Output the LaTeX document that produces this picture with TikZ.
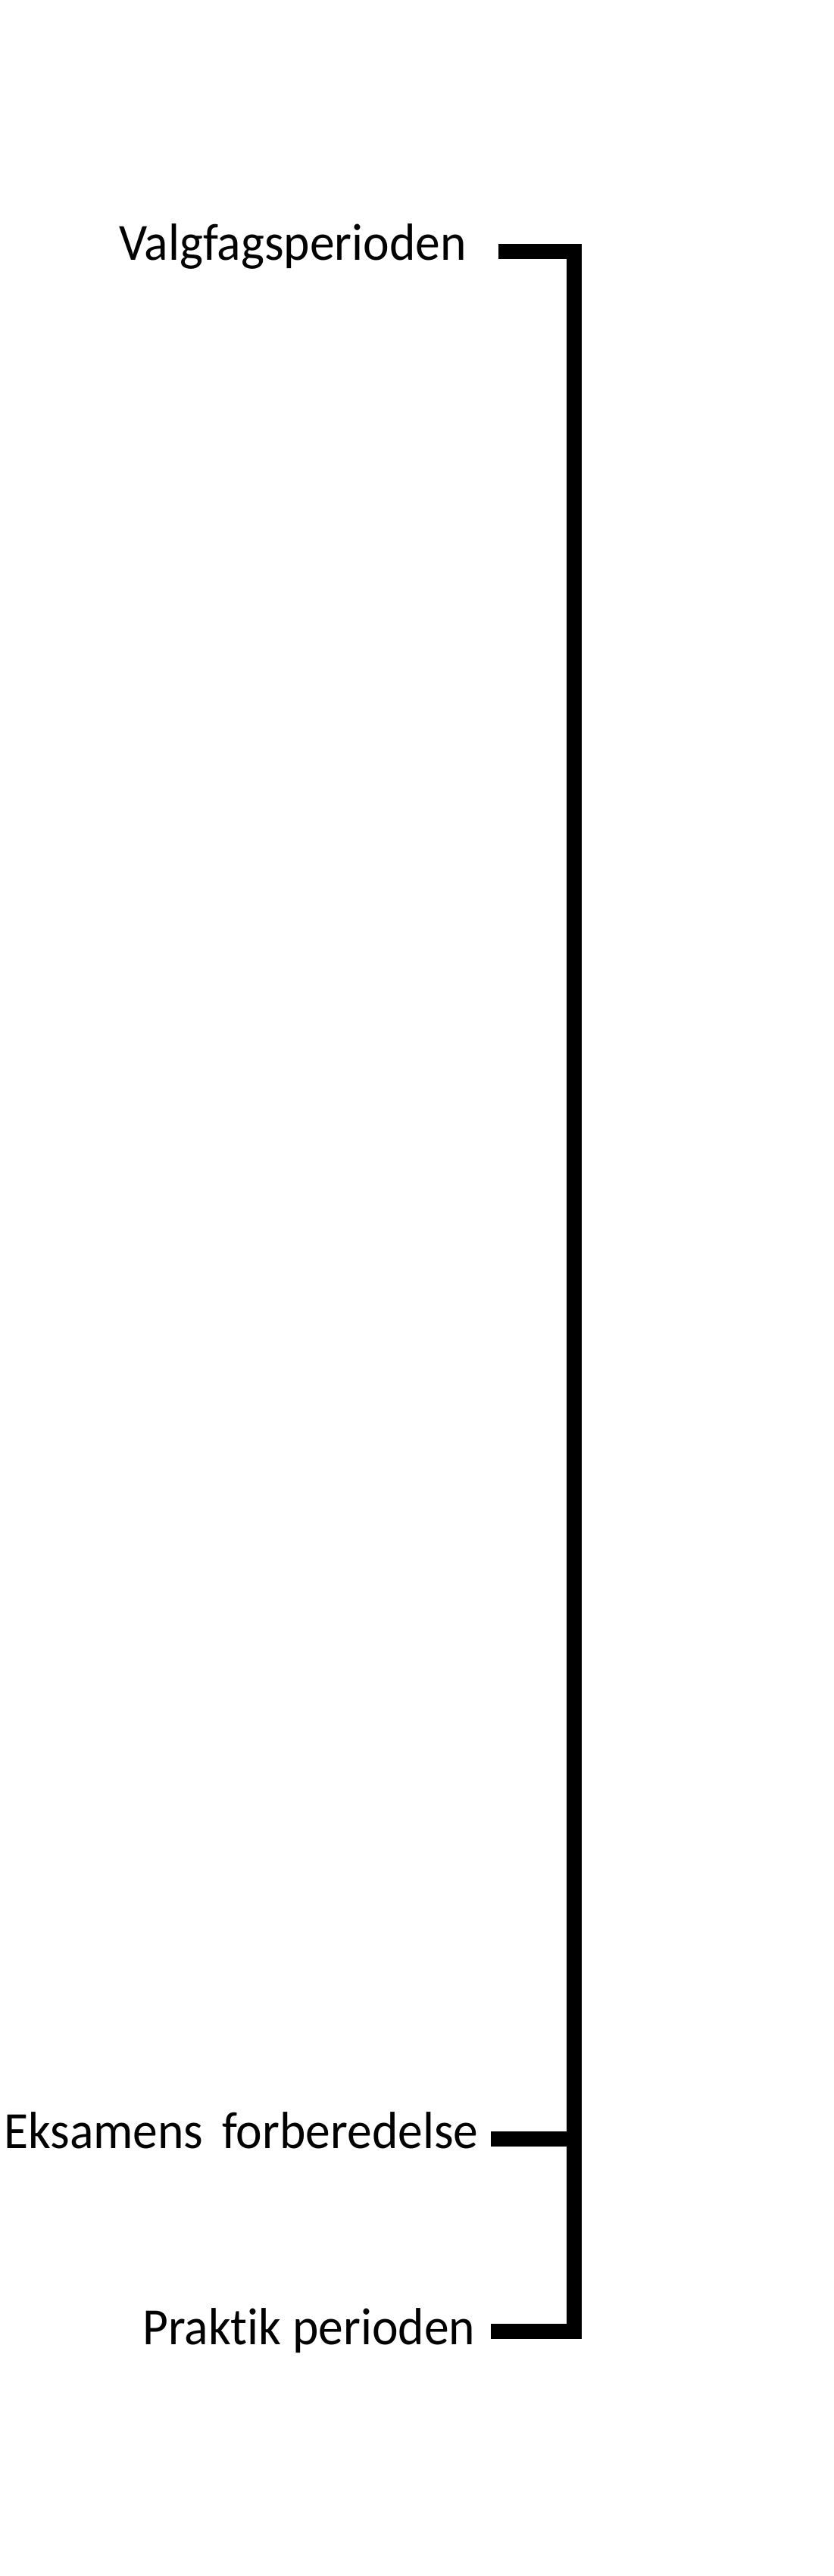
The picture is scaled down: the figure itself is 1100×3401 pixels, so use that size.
\documentclass[tikz,border=0pt]{standalone}
\usepackage{fontspec}
\setmainfont[FakeStretch=0.95, Ligatures=NoCommon]{Carlito}
\begin{document}
\begin{tikzpicture}[x=1pt, y=-1pt]
    \tikzset{period label/.style={anchor=base west, inner sep=0pt, font=\fontsize{69}{80}\selectfont},
             bracket line/.style={line width=20pt, line join=miter}}
    \useasboundingbox (0, 0) rectangle (1100, 3401);

    % Labels of the three periods
    \node[period label] (valgfag) at (157, 343) {Valgfagsperioden};
    \node[period label] (eksamen) at (5, 2836) {Eksamens\hspace{0.36em}forberedelse};
    \node[period label] (praktik) at (188, 3095) {Praktik perioden};

    % End points of the bracket
    \coordinate (top_start) at (658, 331.5);
    \coordinate (top_corner) at (758, 331.5);
    \coordinate (bottom_corner) at (758, 3077.5);
    \coordinate (bottom_start) at (648, 3077.5);
    \coordinate (mid_start) at (648, 2823.5);
    \coordinate (mid_end) at (758, 2823.5);

    % Bracket
    \draw[bracket line] (top_start) -- (top_corner) -- (bottom_corner) -- (bottom_start);
    \draw[bracket line] (mid_start) -- (mid_end);
\end{tikzpicture}
\end{document}
